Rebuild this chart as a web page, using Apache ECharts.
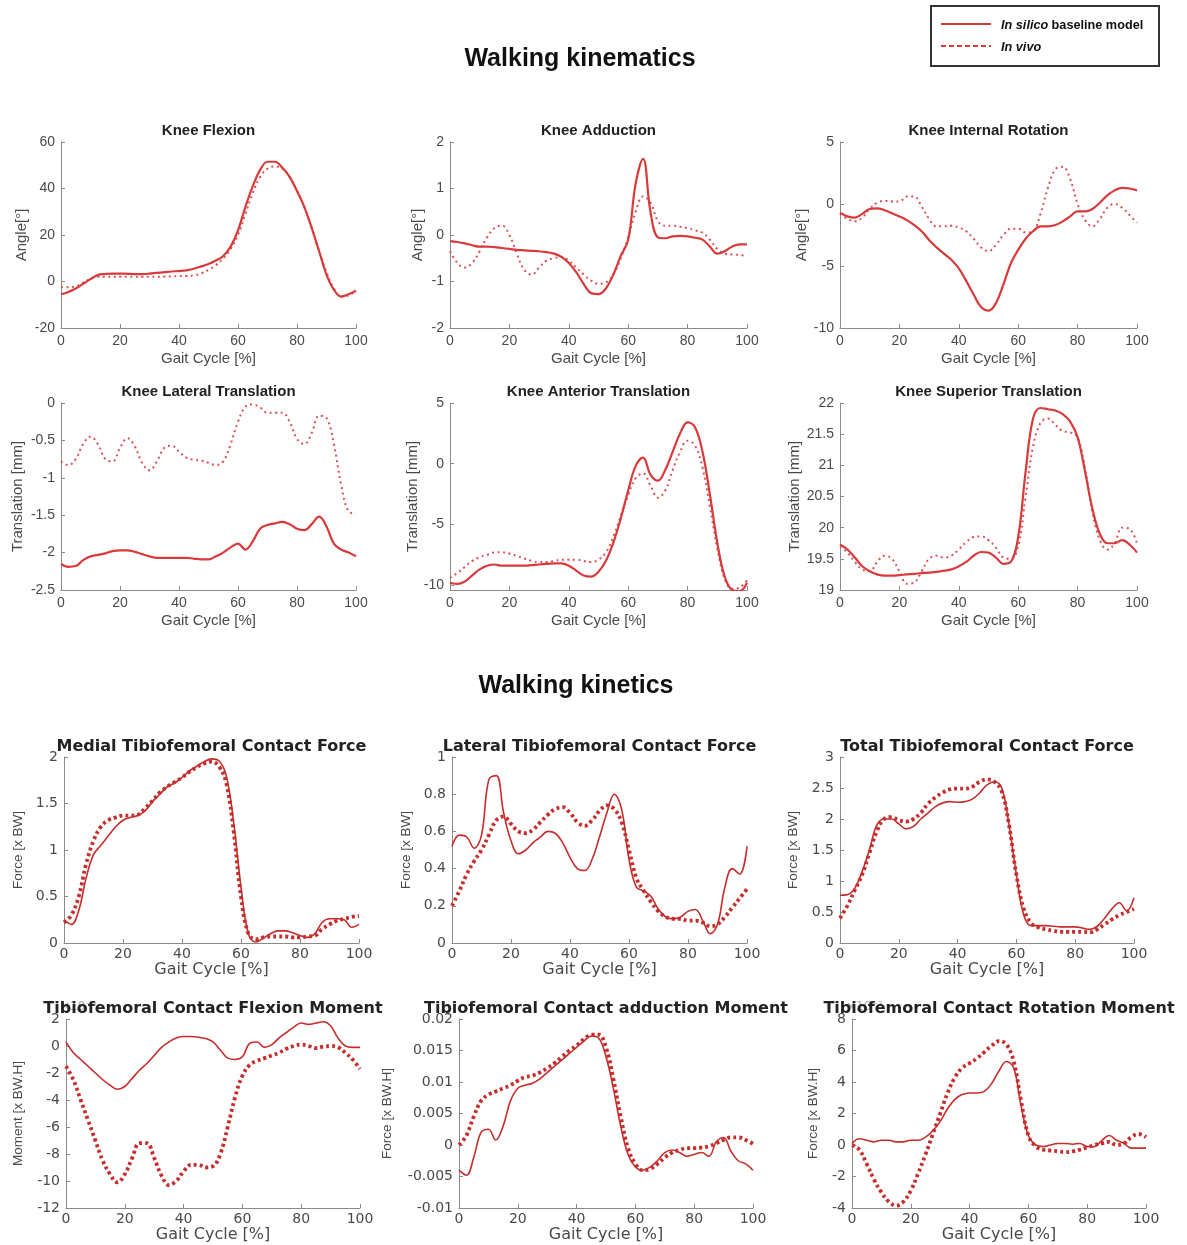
<!DOCTYPE html>
<html><head><meta charset="utf-8">
<script src="https://cdn.jsdelivr.net/npm/echarts@6/dist/echarts.min.js"></script>
<style>html,body{margin:0;padding:0;background:#fff}#c{width:1187px;height:1245px}</style>
</head><body><div id="c"></div>
<script>
// ---------- data (gait cycle %, sampled every 2.5 %) ----------
const gait = [0,2.5,5,7.5,10,12.5,15,17.5,20,22.5,25,27.5,30,32.5,35,37.5,40,42.5,45,47.5,50,52.5,55,57.5,60,62.5,65,67.5,70,72.5,75,77.5,80,82.5,85,87.5,90,92.5,95,97.5,100];

const flexSilico = [-5.5,-4.5,-3,-1,1,2.8,3.2,3.4,3.4,3.3,3.2,3.2,3.4,3.7,4,4.3,4.5,4.8,5.5,6.5,7.5,9,11,15,22,32,41,48,51.5,51.5,49,45,39,32,23,13,3,-3.5,-6.5,-5.5,-4];
const flexVivo = [-2.5,-2.5,-2,-0.5,1.2,2,2,2,2,2,2,2,2,2,2.1,2.2,2.3,2.4,2.6,3.5,5,7,10,14,20,29,38,45,48.5,49.5,48.5,45,39,32,23,13,4,-3,-6.5,-6,-4];

const addSilico = [-0.13,-0.15,-0.18,-0.22,-0.25,-0.25,-0.26,-0.28,-0.3,-0.32,-0.33,-0.34,-0.35,-0.37,-0.4,-0.47,-0.6,-0.8,-1.05,-1.25,-1.27,-1.15,-0.85,-0.45,-0.1,1.1,1.64,0.5,-0.05,-0.07,-0.03,-0.02,-0.03,-0.06,-0.1,-0.25,-0.4,-0.35,-0.25,-0.2,-0.2];
const addVivo = [-0.35,-0.6,-0.7,-0.6,-0.35,-0.05,0.15,0.2,0.0,-0.4,-0.75,-0.85,-0.7,-0.55,-0.5,-0.47,-0.55,-0.7,-0.85,-0.98,-1.05,-1.02,-0.85,-0.5,-0.05,0.5,0.83,0.7,0.3,0.2,0.2,0.18,0.15,0.1,0.05,-0.1,-0.3,-0.4,-0.42,-0.43,-0.45];

const rotSilico = [-0.7,-1.0,-1.1,-0.8,-0.4,-0.35,-0.5,-0.75,-1.0,-1.3,-1.7,-2.2,-2.9,-3.5,-4.0,-4.5,-5.2,-6.2,-7.3,-8.3,-8.6,-8.0,-6.5,-4.8,-3.7,-2.8,-2.2,-1.8,-1.8,-1.7,-1.4,-1.0,-0.6,-0.6,-0.4,0.1,0.7,1.1,1.3,1.25,1.1];
const rotVivo = [-0.8,-1.2,-1.4,-1.1,-0.4,0.1,0.25,0.2,0.2,0.6,0.6,-0.2,-1.2,-1.8,-1.8,-1.75,-1.9,-2.2,-2.8,-3.5,-3.8,-3.3,-2.5,-2.0,-2.0,-2.3,-2.2,-0.8,1.3,2.8,3.0,2.0,0.0,-1.3,-1.8,-1.2,-0.3,0.0,-0.3,-0.9,-1.5];

const latSilico = [-2.15,-2.19,-2.18,-2.1,-2.05,-2.03,-2.01,-1.98,-1.97,-1.97,-1.99,-2.02,-2.05,-2.07,-2.07,-2.07,-2.07,-2.07,-2.08,-2.09,-2.09,-2.05,-2.0,-1.93,-1.88,-1.96,-1.85,-1.68,-1.63,-1.61,-1.59,-1.62,-1.68,-1.7,-1.62,-1.52,-1.65,-1.88,-1.96,-2.0,-2.05];
const latVivo = [-0.78,-0.83,-0.75,-0.55,-0.45,-0.55,-0.75,-0.78,-0.6,-0.47,-0.58,-0.8,-0.9,-0.78,-0.6,-0.57,-0.65,-0.73,-0.76,-0.77,-0.8,-0.83,-0.78,-0.55,-0.25,-0.05,-0.02,-0.06,-0.13,-0.13,-0.13,-0.25,-0.48,-0.55,-0.4,-0.17,-0.2,-0.55,-1.1,-1.45,-1.48];

const antSilico = [-9.8,-9.9,-9.7,-9.2,-8.7,-8.4,-8.3,-8.4,-8.4,-8.4,-8.4,-8.35,-8.3,-8.25,-8.2,-8.2,-8.4,-8.8,-9.2,-9.3,-8.9,-8.0,-6.5,-4.5,-2.2,-0.2,0.5,-0.9,-1.4,-0.5,1.0,2.5,3.4,3.0,1.0,-2.5,-6.5,-9.3,-10.4,-10.5,-9.8];
const antVivo = [-9.4,-9.0,-8.5,-8.0,-7.7,-7.5,-7.3,-7.3,-7.4,-7.6,-7.8,-8.0,-8.1,-8.1,-8.0,-7.9,-7.9,-7.9,-8.0,-8.1,-7.9,-7.3,-6.0,-4.3,-2.6,-1.2,-0.8,-1.8,-2.8,-2.2,-0.5,1.0,1.9,1.5,-0.3,-3.5,-7.0,-9.5,-10.3,-10.2,-9.6];

const supSilico = [19.73,19.65,19.52,19.38,19.3,19.25,19.23,19.23,19.24,19.25,19.26,19.27,19.28,19.29,19.31,19.33,19.38,19.45,19.55,19.61,19.6,19.52,19.42,19.45,19.85,20.9,21.75,21.92,21.9,21.88,21.82,21.7,21.45,20.9,20.3,19.9,19.75,19.75,19.8,19.73,19.6];
const supVivo = [19.7,19.6,19.45,19.33,19.3,19.45,19.55,19.5,19.3,19.1,19.12,19.3,19.5,19.55,19.52,19.55,19.65,19.77,19.85,19.86,19.8,19.68,19.52,19.5,19.7,20.5,21.3,21.68,21.75,21.65,21.55,21.53,21.45,20.95,20.25,19.8,19.65,19.75,20.0,19.98,19.75];

const medSilico = [0.25,0.2,0.35,0.7,0.95,1.05,1.15,1.25,1.32,1.35,1.37,1.42,1.52,1.6,1.68,1.72,1.78,1.85,1.9,1.95,1.98,1.96,1.8,1.3,0.6,0.1,0.01,0.05,0.1,0.13,0.13,0.11,0.08,0.06,0.1,0.22,0.26,0.26,0.25,0.17,0.2];
const medVivo = [0.22,0.3,0.5,0.85,1.1,1.25,1.32,1.35,1.37,1.37,1.38,1.45,1.53,1.62,1.68,1.73,1.78,1.84,1.89,1.93,1.95,1.9,1.72,1.2,0.5,0.1,0.04,0.06,0.07,0.07,0.07,0.06,0.06,0.07,0.08,0.15,0.2,0.24,0.26,0.28,0.29];

const latFSilico = [0.52,0.58,0.57,0.51,0.58,0.88,0.9,0.7,0.55,0.48,0.5,0.54,0.57,0.6,0.59,0.54,0.46,0.4,0.39,0.45,0.57,0.7,0.8,0.72,0.45,0.3,0.28,0.25,0.18,0.14,0.13,0.14,0.17,0.18,0.12,0.05,0.1,0.3,0.4,0.37,0.52];
const latFVivo = [0.2,0.28,0.37,0.44,0.5,0.58,0.66,0.68,0.64,0.6,0.59,0.61,0.65,0.69,0.72,0.73,0.7,0.65,0.63,0.66,0.71,0.74,0.72,0.65,0.5,0.35,0.28,0.22,0.17,0.14,0.13,0.13,0.12,0.12,0.11,0.09,0.1,0.14,0.19,0.24,0.29];

const totSilico = [0.77,0.78,0.88,1.15,1.5,1.9,2.0,2.0,1.92,1.84,1.88,2.0,2.1,2.2,2.26,2.28,2.27,2.28,2.32,2.42,2.55,2.6,2.5,1.9,1.1,0.45,0.28,0.28,0.28,0.27,0.26,0.26,0.26,0.24,0.22,0.27,0.4,0.55,0.65,0.52,0.73];
const totVivo = [0.4,0.6,0.85,1.1,1.45,1.8,2.0,2.03,1.98,1.96,2.0,2.1,2.25,2.35,2.43,2.48,2.49,2.49,2.52,2.6,2.64,2.6,2.45,1.9,1.1,0.55,0.32,0.25,0.22,0.2,0.18,0.18,0.18,0.18,0.17,0.22,0.3,0.38,0.45,0.5,0.55];

const fmSilico = [0.3,-0.5,-1.0,-1.5,-2.0,-2.5,-2.9,-3.2,-3.0,-2.4,-1.8,-1.3,-0.7,-0.1,0.3,0.6,0.7,0.7,0.65,0.55,0.3,-0.3,-0.9,-1.0,-0.8,0.2,0.3,-0.1,0.1,0.6,1.0,1.4,1.7,1.6,1.7,1.8,1.5,0.6,0.0,-0.1,-0.1];
const fmVivo = [-1.5,-2.5,-4.0,-5.5,-7.0,-8.5,-9.5,-10.1,-9.5,-8.3,-7.2,-7.2,-8.3,-9.6,-10.3,-10.0,-9.3,-8.8,-8.8,-9.0,-8.9,-8.0,-6.0,-3.8,-2.2,-1.4,-1.1,-0.9,-0.7,-0.5,-0.2,0.0,0.1,0.0,-0.15,-0.05,0.0,-0.1,-0.5,-1.0,-1.7];

const amSilico = [-0.004,-0.0048,-0.002,0.002,0.0025,0.0008,0.003,0.007,0.009,0.0095,0.0098,0.0105,0.0115,0.0125,0.0135,0.0145,0.0155,0.0165,0.0173,0.017,0.014,0.009,0.003,-0.0015,-0.0035,-0.004,-0.0035,-0.0025,-0.0012,-0.0008,-0.0012,-0.0018,-0.0015,-0.0012,-0.0018,0.0005,0.0012,-0.001,-0.0025,-0.003,-0.004];
const amVivo = [0.0,0.0015,0.0045,0.007,0.008,0.0085,0.009,0.0095,0.0102,0.0108,0.011,0.0115,0.0122,0.013,0.014,0.015,0.0158,0.0168,0.0175,0.0175,0.0155,0.0105,0.0045,-0.0005,-0.003,-0.004,-0.0038,-0.003,-0.002,-0.0012,-0.0008,-0.0005,-0.0005,-0.0004,-0.0002,0.0003,0.0008,0.0012,0.0012,0.0008,0.0002];

const rmSilico = [0.1,0.4,0.3,0.2,0.3,0.3,0.2,0.2,0.3,0.3,0.5,0.9,1.5,2.3,2.9,3.2,3.3,3.3,3.4,3.9,4.7,5.3,4.9,2.5,0.6,0.0,-0.1,0.0,0.1,0.1,0.05,0.1,-0.1,-0.1,0.3,0.6,0.3,0.1,-0.2,-0.2,-0.2];
const rmVivo = [0.0,-0.3,-1.2,-2.2,-3.0,-3.6,-3.85,-3.6,-2.9,-1.8,-0.6,0.7,2.0,3.3,4.3,4.9,5.2,5.5,5.9,6.3,6.6,6.4,5.3,2.8,0.6,-0.1,-0.3,-0.35,-0.4,-0.45,-0.4,-0.3,-0.15,0.0,0.1,0.2,0.0,0.1,0.5,0.7,0.5];

const titles = ['Knee Flexion','Knee Adduction','Knee Internal Rotation','Knee Lateral Translation','Knee Anterior Translation','Knee Superior Translation','Medial Tibiofemoral Contact Force','Lateral Tibiofemoral Contact Force','Total Tibiofemoral Contact Force','Tibiofemoral Contact Flexion Moment','Tibiofemoral Contact adduction Moment','Tibiofemoral Contact Rotation Moment'];
const yNames = ['Angle[°]','Angle[°]','Angle[°]','Translation [mm]','Translation [mm]','Translation [mm]','Force [x BW]','Force [x BW]','Force [x BW]','Moment [x BW.H]','Force [x BW.H]','Force [x BW.H]'];
const silicoSets = [flexSilico,addSilico,rotSilico,latSilico,antSilico,supSilico,medSilico,latFSilico,totSilico,fmSilico,amSilico,rmSilico];
const vivoSets = [flexVivo,addVivo,rotVivo,latVivo,antVivo,supVivo,medVivo,latFVivo,totVivo,fmVivo,amVivo,rmVivo];
const yMin = [-20,-2,-10,-2.5,-10.4,19,0,0,0,-12,-0.01,-4];
const yMax = [60,2,5,0,5,22,2,1,3,2,0.02,8];
const yStep = [20,1,5,0.5,5,0.5,0.5,0.2,0.5,2,0.005,2];
const xTicks = [0,100,20];
const legendNames = ['In silico','baseline model','In vivo'];
const mainTitles = ['Walking kinematics','Walking kinetics'];

// ---------- layout ----------
const grids = [
  [61,142,295,186],[450,142,297,186],[840,142,297,186],
  [61,403,295,187],[450,403,297,187],[840,403,297,187],
  [64,757,295,186],[452,757,295,186],[840,757,294,186],
  [66,1019,294,189],[459,1019,294,189],[852,1019,294,189]
];
const nameGaps = [32,25,31,36,30,36,39,39,40,41,65,32];
const SOLID = '#d83a3c', KCOL = '#c62d2d';
const axisCol = '#8a8a8a', labCol = '#4a4a4a';

const option = {
  animation:false,
  backgroundColor:'#fff',
  title:[], grid:[], xAxis:[], yAxis:[], series:[],
  graphic:[
    {type:'rect',shape:{x:931,y:6,width:228,height:60},style:{fill:'none',stroke:'#333',lineWidth:2}},
    {type:'line',shape:{x1:941,y1:24,x2:991,y2:24},style:{stroke:SOLID,lineWidth:2}},
    {type:'line',shape:{x1:941,y1:46,x2:991,y2:46},style:{stroke:SOLID,lineWidth:2,lineDash:[5,3]}},
    {type:'text',x:1001,y:25,style:{text:'{i|'+legendNames[0]+'} {b|'+legendNames[1]+'}',verticalAlign:'middle',
      rich:{i:{fontFamily:'Liberation Sans',fontStyle:'italic',fontWeight:'bold',fontSize:12.7,fill:'#111'},
            b:{fontFamily:'Liberation Sans',fontWeight:'bold',fontSize:12.7,fill:'#111'}}}},
    {type:'text',x:1001,y:47,style:{text:legendNames[2],verticalAlign:'middle',fontFamily:'Liberation Sans',fontStyle:'italic',fontWeight:'bold',fontSize:12.7,fill:'#111'}},
    {type:'text',x:60,y:1001,style:{text:'×10⁻³',fontSize:12,fill:'#aaa',fontFamily:'DejaVu Sans'}},
    {type:'text',x:846,y:1001,style:{text:'×10⁻³',fontSize:12,fill:'#aaa',fontFamily:'DejaVu Sans'}}
  ]
};

option.title.push({text:mainTitles[0],left:580,top:47,textAlign:'center',padding:0,
  textStyle:{fontFamily:'Liberation Sans',fontWeight:'bold',fontSize:25,color:'#111'}});
option.title.push({text:mainTitles[1],left:576,top:674,textAlign:'center',padding:0,
  textStyle:{fontFamily:'Liberation Sans',fontWeight:'bold',fontSize:25,color:'#111'}});

for (let i=0;i<12;i++){
  const [l,t,w,h] = grids[i];
  const kin = i>=6;
  const fam = kin ? 'DejaVu Sans' : 'Liberation Sans';
  option.grid.push({left:l,top:t,width:w,height:h,containLabel:false});
  option.title.push({text:titles[i],left:l+w/2,top:t-(kin?18:19),textAlign:'center',padding:0,z:5,
    textStyle:{fontFamily:fam,fontWeight:'bold',fontSize:kin?16:15,color:'#222'}});
  option.xAxis.push({type:'value',gridIndex:i,min:xTicks[0],max:xTicks[1],interval:xTicks[2],
    name:'Gait Cycle [%]',nameLocation:'middle',nameGap:kin?17:23,
    nameTextStyle:{fontFamily:fam,fontSize:kin?16:15,color:labCol},
    axisLine:{onZero:false,lineStyle:{color:axisCol,width:1}},
    axisTick:{inside:true,length:4,lineStyle:{color:axisCol}},
    axisLabel:{fontFamily:fam,fontSize:14,color:labCol,margin:kin?4:6},
    splitLine:{show:false}});
  const ya = {type:'value',gridIndex:i,min:yMin[i],max:yMax[i],
    name:yNames[i],nameLocation:'middle',nameGap:nameGaps[i],
    nameTextStyle:{fontFamily:'Liberation Sans',fontSize:kin?13.5:15,color:labCol},
    axisLine:{show:true,onZero:false,lineStyle:{color:axisCol,width:1}},
    axisTick:{show:true,inside:true,length:4,lineStyle:{color:axisCol}},
    axisLabel:{fontFamily:fam,fontSize:14,color:labCol,margin:6},
    splitLine:{show:false}};
  if (i===4){ ya.splitNumber=3; ya.axisLabel.showMinLabel=false; }
  else ya.interval = yStep[i];
  option.yAxis.push(ya);
  const col = kin ? KCOL : SOLID;
  option.series.push({name:'In silico baseline model',type:'line',xAxisIndex:i,yAxisIndex:i,
    data:gait.map((x,k)=>[x,silicoSets[i][k]]),smooth:0.4,symbol:'none',
    lineStyle:{color:col,width:kin?1.6:2.2},itemStyle:{color:col},z:3});
  option.series.push({name:'In vivo',type:'line',xAxisIndex:i,yAxisIndex:i,
    data:gait.map((x,k)=>[x,vivoSets[i][k]]),smooth:0.4,symbol:'none',
    lineStyle:kin?{color:col,width:3.8,type:[3,3]}:{color:'#dd5055',width:2,type:[2,3.5]},
    itemStyle:{color:col},z:2});
}

const chart = echarts.init(document.getElementById('c'),null,{renderer:'canvas'});
chart.setOption(option);
</script></body></html>
